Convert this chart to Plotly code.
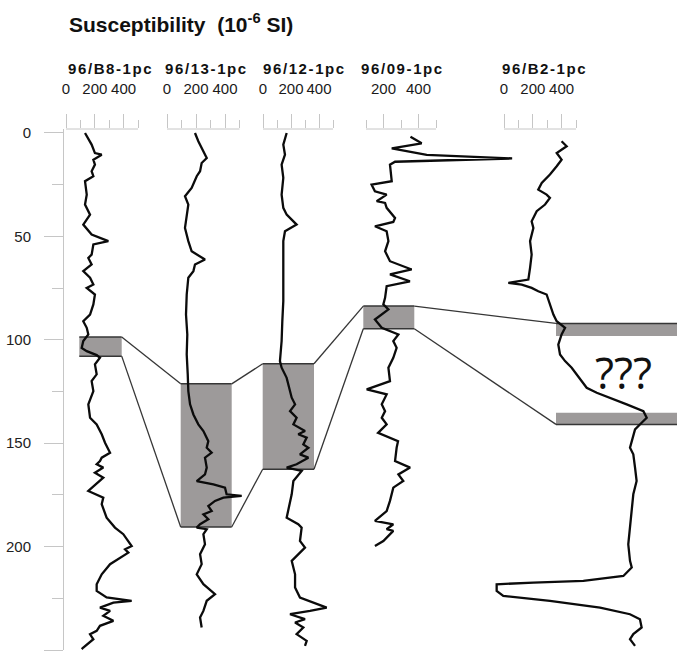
import plotly.graph_objects as go

# ---------------------------------------------------------------------------
# Magnetic susceptibility logs (10^-6 SI) against depth (cm) for five cores
# ---------------------------------------------------------------------------
core_names = ["96/B8-1pc", "96/13-1pc", "96/12-1pc", "96/09-1pc", "96/B2-1pc"]

b8_depth = [0, 5.6, 9.7, 10.5, 12.9, 15.3, 18.5, 20.9, 23.3, 29.8, 34.6, 39.5, 44.3,
            49.1, 52.3, 53.9, 58.8, 60.4, 63.6, 66.8, 70.0, 73.3, 74.9, 78.1, 82.9,
            87.8, 91.0, 94.2, 97.4, 100.6, 103.9, 105.5, 107.4, 108.7, 111.9, 116.7,
            120.0, 124.8, 131.2, 137.7, 140.9, 145.7, 149.8, 154.6, 157.0, 158.6,
            160.2, 161.8, 164.3, 166.7, 173.1, 176.3, 179.5, 186.0, 190.8, 194.0,
            199.7, 201.3, 202.9, 205.3, 208.5, 213.4, 218.2, 221.4, 224.6, 226.2,
            227.1, 229.5, 231.1, 233.5, 235.9, 238.3, 240.7, 242.4, 244.8, 248.8, 249.6]
b8_sus = [132, 178, 201, 248, 190, 201, 178, 190, 132, 144, 132, 167, 120, 178, 294,
          190, 178, 155, 178, 120, 167, 190, 144, 201, 190, 167, 120, 144, 155, 120,
          109, 144, 213, 236, 201, 213, 178, 190, 155, 167, 213, 248, 271, 306, 248,
          236, 213, 259, 201, 259, 155, 259, 248, 282, 340, 398, 456, 410, 433, 375,
          306, 248, 213, 213, 282, 456, 329, 236, 306, 259, 329, 236, 213, 167, 190,
          120, 109]

c13_depth = [0, 4.0, 12.1, 14.5, 18.5, 20.9, 26.6, 30.6, 34.6, 39.5, 45.9, 52.3, 57.2,
             61.2, 63.6, 66.8, 70.0, 78.1, 87.8, 97.4, 107.1, 116.7, 124.8, 131.2,
             136.1, 140.9, 144.1, 149.0, 152.2, 154.6, 157.0, 161.8, 165.1, 168.3,
             169.9, 171.5, 174.7, 175.5, 176.3, 177.9, 180.4, 182.8, 184.4, 186.8,
             189.2, 190.8, 191.6, 194.0, 198.9, 203.7, 208.5, 213.4, 218.2, 223.0,
             226.2, 231.1, 234.3, 239.1]
c13_sus = [193, 216, 274, 239, 228, 205, 170, 124, 147, 136, 124, 147, 170, 262, 193,
           182, 147, 136, 131, 140, 136, 143, 147, 159, 182, 216, 251, 285, 274, 308,
           262, 274, 262, 205, 320, 400, 411, 515, 389, 331, 285, 308, 251, 285, 228,
           205, 274, 251, 262, 228, 239, 205, 251, 331, 274, 251, 228, 239]

c12_depth = [0, 5.6, 10.5, 15.3, 21.7, 29.8, 36.2, 39.5, 44.3, 47.5, 52.3, 62.0, 71.7,
             81.3, 91.0, 100.6, 110.3, 113.5, 118.4, 124.8, 128.0, 131.2, 134.5, 137.7,
             140.9, 144.1, 145.7, 147.3, 150.6, 152.2, 155.4, 157.0, 160.2, 161.8,
             163.4, 168.3, 174.7, 186.0, 189.2, 190.8, 197.3, 200.5, 206.9, 213.4,
             219.8, 224.6, 226.2, 229.5, 231.1, 232.7, 235.1, 236.7, 239.1, 242.3,
             245.6, 248.0]
c12_sus = [169, 145, 157, 133, 145, 133, 145, 169, 240, 157, 145, 145, 140, 145, 138,
           133, 121, 133, 169, 193, 205, 229, 193, 240, 217, 300, 252, 312, 288, 324,
           264, 324, 240, 169, 276, 217, 205, 169, 252, 276, 264, 300, 205, 229, 229,
           264, 324, 455, 336, 193, 300, 229, 288, 240, 312, 300]

c09_depth = [1.8, 5.0, 7.4, 10.6, 12.3, 13.9, 15.3, 23.3, 25.0, 28.2, 29.8, 33.0, 33.8,
             36.2, 41.1, 43.0, 45.1, 47.5, 52.3, 57.2, 62.0, 66.0, 68.4, 71.7, 74.1,
             79.7, 82.9, 85.3, 90.2, 94.2, 97.4, 100.6, 103.9, 108.7, 113.5, 120.0,
             124.0, 126.4, 131.2, 134.5, 137.7, 140.9, 145.0, 149.0, 152.2, 158.6,
             161.8, 165.1, 168.3, 171.5, 177.9, 182.8, 187.6, 189.2, 191.6, 192.4,
             197.3, 199.7]
c09_sus = [354, 418, 247, 447, 935, 266, 237, 247, 132, 151, 218, 161, 209, 218, 266,
           256, 151, 218, 228, 209, 237, 361, 237, 351, 218, 209, 199, 228, 151, 190,
           285, 256, 275, 256, 228, 237, 104, 218, 190, 209, 190, 218, 169, 283, 275,
           266, 352, 285, 313, 256, 237, 218, 151, 256, 218, 256, 199, 151]

b2_depth = [4.0, 6.4, 9.7, 12.9, 16.1, 20.1, 24.2, 27.4, 29.8, 31.4, 34.6, 37.8, 42.7,
            45.9, 52.3, 58.8, 65.2, 70.9, 72.5, 73.3, 74.9, 76.5, 78.1, 82.9, 87.8,
            91.0, 94.2, 97.4, 102.3, 107.1, 110.3, 113.5, 116.7, 120.0, 123.2, 125.6,
            128.0, 131.2, 134.5, 137.7, 140.1, 143.3, 152.2, 155.4, 161.8, 168.3,
            174.7, 182.8, 190.8, 198.9, 206.9, 210.1, 214.2, 216.6, 217.4, 218.2,
            221.4, 223.8, 226.2, 229.5, 232.7, 235.1, 239.1, 242.3, 244.8, 248.0]
b2_sus = [400, 435, 366, 400, 366, 319, 262, 238, 296, 319, 285, 227, 192, 204, 181,
          192, 181, 169, 30, 123, 192, 238, 296, 319, 343, 366, 424, 400, 377, 389,
          424, 470, 505, 539, 574, 644, 736, 852, 968, 991, 956, 910, 875, 898, 910,
          921, 898, 887, 875, 863, 875, 887, 829, 551, 204, -51, -51, -5, 319, 667,
          875, 944, 956, 898, 875, 910]

# correlated intervals (top, bottom depth in cm)
b8_interval = (98.7, 107.9)
c13_interval = (121.3, 190.5)
c12_interval = (111.6, 162.6)
c09_interval = (83.7, 94.7)
b2_upper_band = (92.1, 98.2)
b2_lower_band = (135.3, 140.9)

depth_ticks = [0, 50, 100, 150, 200, 250]
depth_minor = [25, 75, 125, 175, 225]
sus_major = [0, 200, 400]
sus_minor = [100, 300, 500]
c09_major = [200, 400]

# ---------------------------------------------------------------------------
# page geometry (pixels)
# ---------------------------------------------------------------------------
W, H = 677, 657
ML, MT, MB = 64, 129, 7
PW, PH = W - ML, H - MT - MB
DEPTH_TOP = -1.93

GRID = "#c6c6c6"
BOX = "#9d9a9a"
EDGE = "#363636"
FONT = "Liberation Sans, Arial, sans-serif"


def px(xp):
    return (xp - ML) / PW


def py(yp):
    return 1 - (yp - MT) / PH


# zero position, pixels per unit, box left, box right, label centre
columns = [
    (66.0, 0.144, 79.3, 121.7, 110),
    (167.0, 0.145, 180.7, 231.7, 206),
    (263.0, 0.140, 262.7, 314.0, 304),
    (348.5, 0.175, 363.3, 414.3, 403),
    (504.0, 0.144, 556.0, 677.0, 544),
]
series = [(b8_depth, b8_sus), (c13_depth, c13_sus), (c12_depth, c12_sus),
          (c09_depth, c09_sus), (b2_depth, b2_sus)]
majors = [sus_major, sus_major, sus_major, c09_major, sus_major]
axis_start = [0, 0, 0, 100, 0]

fig = go.Figure()
layout = {}
shapes = []
annotations = []

for i, ((zero, scale, bl, br, cx), (dep, sus)) in enumerate(zip(columns, series)):
    key = "x" if i == 0 else f"x{i + 1}"
    lname = "xaxis" if i == 0 else f"xaxis{i + 1}"
    lo = -(zero - ML) / scale
    hi = lo + PW / scale
    ax = dict(
        domain=[0, 1], range=[lo, hi], side="top", anchor="y",
        showgrid=False, zeroline=False, showline=False,
        ticks="outside", ticklen=14, tickwidth=1, tickcolor=GRID,
        tickmode="array", tickvals=majors[i], ticktext=[str(v) for v in majors[i]],
        tickangle=0, tickfont=dict(family=FONT, size=15, color="#1a1a1a"),
        ticklabelstandoff=14,
        minor=dict(ticks="outside", ticklen=8, tickwidth=1, tickcolor=GRID,
                   tickvals=sus_minor, showgrid=False),
    )
    if i > 0:
        ax["overlaying"] = "x"
    layout[lname] = ax

    fig.add_trace(go.Scatter(
        x=sus, y=dep, xaxis=key, yaxis="y", mode="lines",
        line=dict(color="#0b0b0b", width=2.3), showlegend=False, hoverinfo="skip",
    ))

    # baseline of the small susceptibility scale
    shapes.append(dict(type="line", xref=key, yref="paper", x0=axis_start[i], x1=500,
                       y0=1, y1=1, line=dict(color=GRID, width=1)))

    annotations.append(dict(
        text=f'<span style="letter-spacing:1.6px"><b>{core_names[i]}</b></span>',
        xref="paper", yref="paper", x=px(cx), y=py(68),
        xanchor="center", yanchor="middle", showarrow=False,
        font=dict(family=FONT, size=15, color="#111111"),
    ))

# shaded correlation intervals
intervals = [b8_interval, c13_interval, c12_interval, c09_interval]
for (zero, scale, bl, br, cx), (top, bot) in zip(columns[:4], intervals):
    shapes.append(dict(type="rect", xref="paper", yref="y", x0=px(bl), x1=px(br),
                       y0=top, y1=bot, fillcolor=BOX, line=dict(width=0), layer="below"))
    for d in (top, bot):
        shapes.append(dict(type="line", xref="paper", yref="y", x0=px(bl), x1=px(br),
                           y0=d, y1=d, line=dict(color=EDGE, width=1.5), layer="below"))

b2_bl, b2_br = columns[4][2], columns[4][3]
for (top, bot) in (b2_upper_band, b2_lower_band):
    shapes.append(dict(type="rect", xref="paper", yref="y", x0=px(b2_bl), x1=px(b2_br),
                       y0=top, y1=bot, fillcolor=BOX, line=dict(width=0), layer="below"))
for d in (b2_upper_band[0], b2_lower_band[1]):
    shapes.append(dict(type="line", xref="paper", yref="y", x0=px(b2_bl), x1=px(b2_br),
                       y0=d, y1=d, line=dict(color=EDGE, width=1.5), layer="below"))

# tie lines between neighbouring intervals
targets = intervals + [(b2_upper_band[0], b2_lower_band[1])]
for i in range(4):
    right = columns[i][3]
    left = columns[i + 1][2]
    for a, b in zip(targets[i], targets[i + 1]):
        shapes.append(dict(type="line", xref="paper", yref="y", x0=px(right), x1=px(left),
                           y0=a, y1=b, line=dict(color=EDGE, width=1.3), layer="below"))

annotations.append(dict(
    text="<b>Susceptibility  (10<sup>-6</sup> SI)</b>",
    xref="paper", yref="paper", x=px(67), y=py(23), xanchor="left", yanchor="middle",
    showarrow=False,
    font=dict(family=FONT, size=21, color="#111111"),
))
annotations.append(dict(
    text="???", xref="paper", yref="paper", x=px(623), y=py(372),
    xanchor="center", yanchor="middle", showarrow=False,
    font=dict(family="Open Sans, sans-serif", size=44, color="#111111"),
))

layout["yaxis"] = dict(
    domain=[0, 1], range=[250, DEPTH_TOP], anchor="x", side="left",
    showline=True, linecolor=GRID, linewidth=1, showgrid=False, zeroline=False,
    ticks="outside", ticklen=19, tickwidth=1, tickcolor=GRID,
    tickmode="array", tickvals=depth_ticks,
    tickfont=dict(family=FONT, size=15, color="#222222"), ticklabelstandoff=10,
    minor=dict(ticks="outside", ticklen=11, tickwidth=1, tickcolor=GRID,
               tickvals=depth_minor, showgrid=False),
)

fig.update_layout(
    width=W, height=H,
    margin=dict(l=ML, r=0, t=MT, b=MB),
    paper_bgcolor="white", plot_bgcolor="rgba(0,0,0,0)",
    showlegend=False,
    shapes=shapes, annotations=annotations,
    **layout,
)

fig.write_html("out.html")
